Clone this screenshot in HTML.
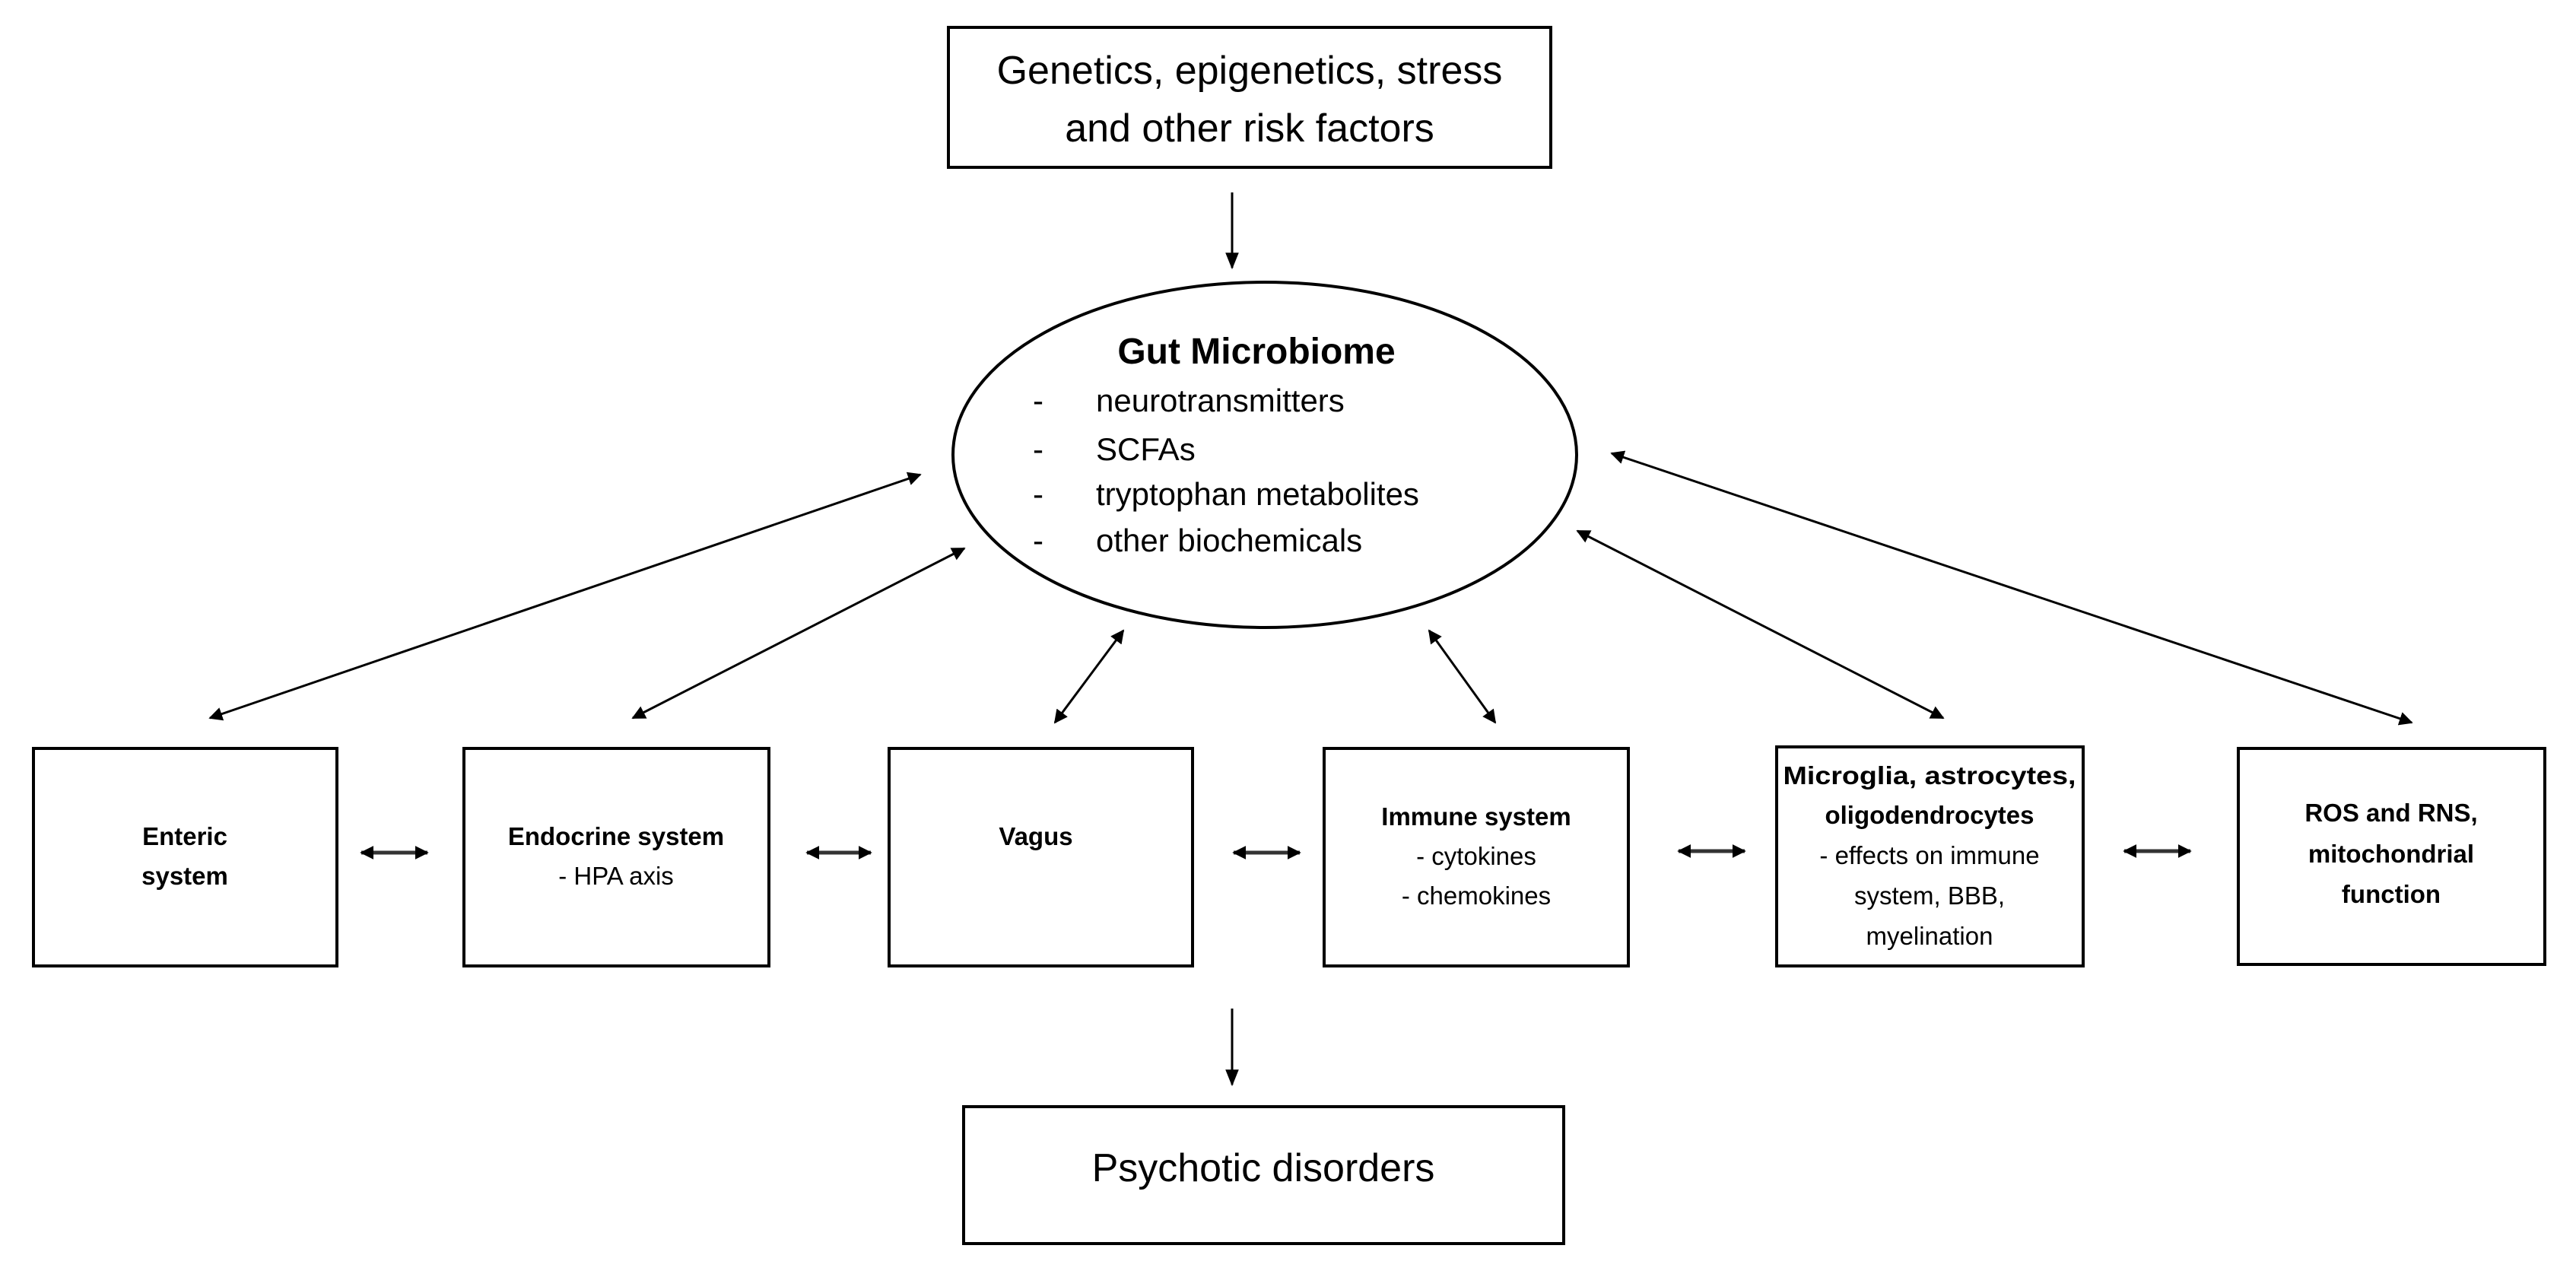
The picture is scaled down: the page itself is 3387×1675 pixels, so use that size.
<!DOCTYPE html>
<html><head><meta charset="utf-8"><style>
html,body{margin:0;padding:0;background:#fff;}
svg{display:block;}
text{font-family:"Liberation Sans",sans-serif;fill:#000;}
.b{font-weight:bold;font-size:33px;}
.n{font-size:33px;}
</style></head><body>
<svg width="3387" height="1675" viewBox="0 0 3387 1675" xmlns="http://www.w3.org/2000/svg">
<defs>
<marker id="s" viewBox="0 0 10 10" refX="9" refY="5" markerWidth="18" markerHeight="18" orient="auto-start-reverse" markerUnits="userSpaceOnUse"><path d="M0,0 L10,5 L0,10 z" fill="#000"/></marker>
<marker id="v" viewBox="0 0 10 10" refX="9" refY="5" markerWidth="22" markerHeight="22" orient="auto" markerUnits="userSpaceOnUse"><path d="M0,1 L10,5 L0,9 z" fill="#000"/></marker>
</defs>
<g fill="none" stroke="#000" stroke-width="4">
<rect x="1247" y="36" width="792" height="184"/>
<ellipse cx="1663" cy="598" rx="410" ry="227"/>
<rect x="44" y="984" width="399" height="286"/>
<rect x="610" y="984" width="401" height="286"/>
<rect x="1169" y="984" width="399" height="286"/>
<rect x="1741" y="984" width="400" height="286"/>
<rect x="2336" y="982" width="403" height="288"/>
<rect x="2943" y="984" width="403" height="284"/>
<rect x="1267" y="1455" width="789" height="180"/>
</g>
<g stroke="#000" stroke-width="3" fill="none">
<line x1="1620" y1="253" x2="1620" y2="352" marker-end="url(#v)"/>
<line x1="1620" y1="1326" x2="1620" y2="1426" marker-end="url(#v)"/>
<line x1="276" y1="944" x2="1210" y2="624" marker-start="url(#s)" marker-end="url(#s)"/>
<line x1="832" y1="944" x2="1268" y2="721" marker-start="url(#s)" marker-end="url(#s)"/>
<line x1="1387" y1="950" x2="1477" y2="829" marker-start="url(#s)" marker-end="url(#s)"/>
<line x1="1966" y1="950" x2="1879" y2="829" marker-start="url(#s)" marker-end="url(#s)"/>
<line x1="2555" y1="944" x2="2074" y2="698" marker-start="url(#s)" marker-end="url(#s)"/>
<line x1="3171" y1="950" x2="2119" y2="596" marker-start="url(#s)" marker-end="url(#s)"/>
</g>
<g stroke="#333" stroke-width="5" fill="none">
<line x1="475" y1="1121" x2="562" y2="1121" marker-start="url(#s)" marker-end="url(#s)"/>
<line x1="1061" y1="1121" x2="1145" y2="1121" marker-start="url(#s)" marker-end="url(#s)"/>
<line x1="1622" y1="1121" x2="1709" y2="1121" marker-start="url(#s)" marker-end="url(#s)"/>
<line x1="2207" y1="1119" x2="2294" y2="1119" marker-start="url(#s)" marker-end="url(#s)"/>
<line x1="2793" y1="1119" x2="2880" y2="1119" marker-start="url(#s)" marker-end="url(#s)"/>
</g>
<g text-anchor="middle">
<text x="1643" y="110" font-size="52">Genetics, epigenetics, stress</text>
<text x="1643" y="186" font-size="52">and other risk factors</text>
<text x="1652" y="478" font-size="48" font-weight="bold">Gut Microbiome</text>
<text x="1661" y="1553" font-size="52">Psychotic disorders</text>
<text class="b" x="243" y="1111">Enteric</text>
<text class="b" x="243" y="1163">system</text>
<text class="b" x="810" y="1111">Endocrine system</text>
<text class="n" x="810" y="1163">- HPA axis</text>
<text class="b" x="1362" y="1111">Vagus</text>
<text class="b" x="1941" y="1085">Immune system</text>
<text class="n" x="1941" y="1137">- cytokines</text>
<text class="n" x="1941" y="1189">- chemokines</text>
<text class="b" x="2537" y="1031" textLength="385" lengthAdjust="spacingAndGlyphs">Microglia, astrocytes,</text>
<text class="b" x="2537" y="1083">oligodendrocytes</text>
<text class="n" x="2537" y="1136">- effects on immune</text>
<text class="n" x="2537" y="1189">system, BBB,</text>
<text class="n" x="2537" y="1242">myelination</text>
<text class="b" x="3144" y="1080">ROS and RNS,</text>
<text class="b" x="3144" y="1134">mitochondrial</text>
<text class="b" x="3144" y="1187">function</text>
</g>
<g font-size="42">
<text x="1358" y="541">-</text><text x="1441" y="541">neurotransmitters</text>
<text x="1358" y="605">-</text><text x="1441" y="605">SCFAs</text>
<text x="1358" y="664">-</text><text x="1441" y="664">tryptophan metabolites</text>
<text x="1358" y="725">-</text><text x="1441" y="725">other biochemicals</text>
</g>
</svg>
</body></html>
